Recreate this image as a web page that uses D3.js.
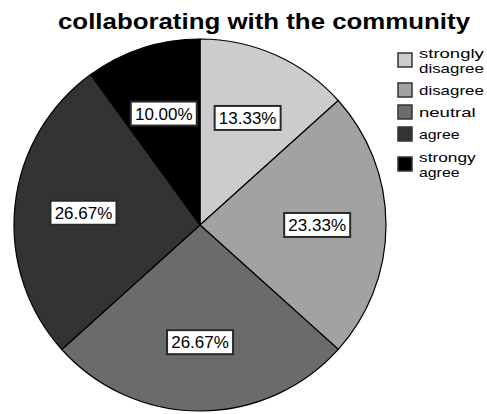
<!DOCTYPE html>
<html>
<head>
<meta charset="utf-8">
<script src="https://cdn.jsdelivr.net/npm/d3@7"></script>
<style>
  body { margin: 0; background: #fff; }
  text { font-family: "Liberation Sans", Arial, sans-serif; }
</style>
</head>
<body>
<div id="chart"></div>
<script>
const categories = ["strongly disagree", "disagree", "neutral", "agree", "strongy agree"];
const legendLines = [["strongly", "disagree"], ["disagree"], ["neutral"], ["agree"], ["strongy", "agree"]];
const percents = [13.33, 23.33, 26.67, 26.67, 10.00];
const colours = ["#cccccc", "#a2a2a2", "#6b6b6b", "#333333", "#000000"];

const width = 487, height = 414;
const cx = 200, cy = 225, radius = 186;

const svg = d3.select("#chart").append("svg")
  .attr("width", width)
  .attr("height", height);

svg.append("text")
  .attr("x", 58)
  .attr("y", 29)
  .attr("font-size", 22)
  .attr("font-weight", "bold")
  .attr("textLength", 412)
  .attr("lengthAdjust", "spacingAndGlyphs")
  .text("collaborating with the community");

const pie = d3.pie().sort(null).value(d => d);
const arcs = pie(percents);
const arc = d3.arc().innerRadius(0).outerRadius(radius);
const labelArc = d3.arc().innerRadius(radius * 0.63).outerRadius(radius * 0.63);

const g = svg.append("g").attr("transform", "translate(" + cx + "," + cy + ")");

g.selectAll("path")
  .data(arcs)
  .enter()
  .append("path")
  .attr("d", arc)
  .attr("fill", (d, i) => colours[i])
  .attr("stroke", "#000")
  .attr("stroke-width", 1.2);

const labels = g.selectAll("g.lab")
  .data(arcs)
  .enter()
  .append("g")
  .attr("class", "lab")
  .attr("transform", d => "translate(" + labelArc.centroid(d) + ")");

labels.append("rect")
  .attr("x", -33)
  .attr("y", -12)
  .attr("width", 66)
  .attr("height", 24)
  .attr("fill", "#fff")
  .attr("stroke", "#2a2a2a")
  .attr("stroke-width", 2);

labels.append("text")
  .attr("text-anchor", "middle")
  .attr("y", 6)
  .attr("font-size", 17)
  .text(d => d.data.toFixed(2) + "%");

// legend
const rowY = [60, 90, 112, 134, 164];
const legend = svg.append("g");
categories.forEach((c, i) => {
  const row = legend.append("g").attr("transform", "translate(398," + rowY[i] + ")");
  row.append("rect")
    .attr("x", 0)
    .attr("y", -7)
    .attr("width", 14)
    .attr("height", 14)
    .attr("fill", colours[i])
    .attr("stroke", "#333")
    .attr("stroke-width", 1.5);
  const lines = legendLines[i];
  const y0 = lines.length === 2 ? -2 : 5;
  lines.forEach((t, j) => {
    row.append("text")
      .attr("x", 21)
      .attr("y", y0 + j * 15)
      .attr("font-size", 13.5)
      .attr("textLength", t.length * 8.1)
      .attr("lengthAdjust", "spacingAndGlyphs")
      .text(t);
  });
});
</script>
</body>
</html>
